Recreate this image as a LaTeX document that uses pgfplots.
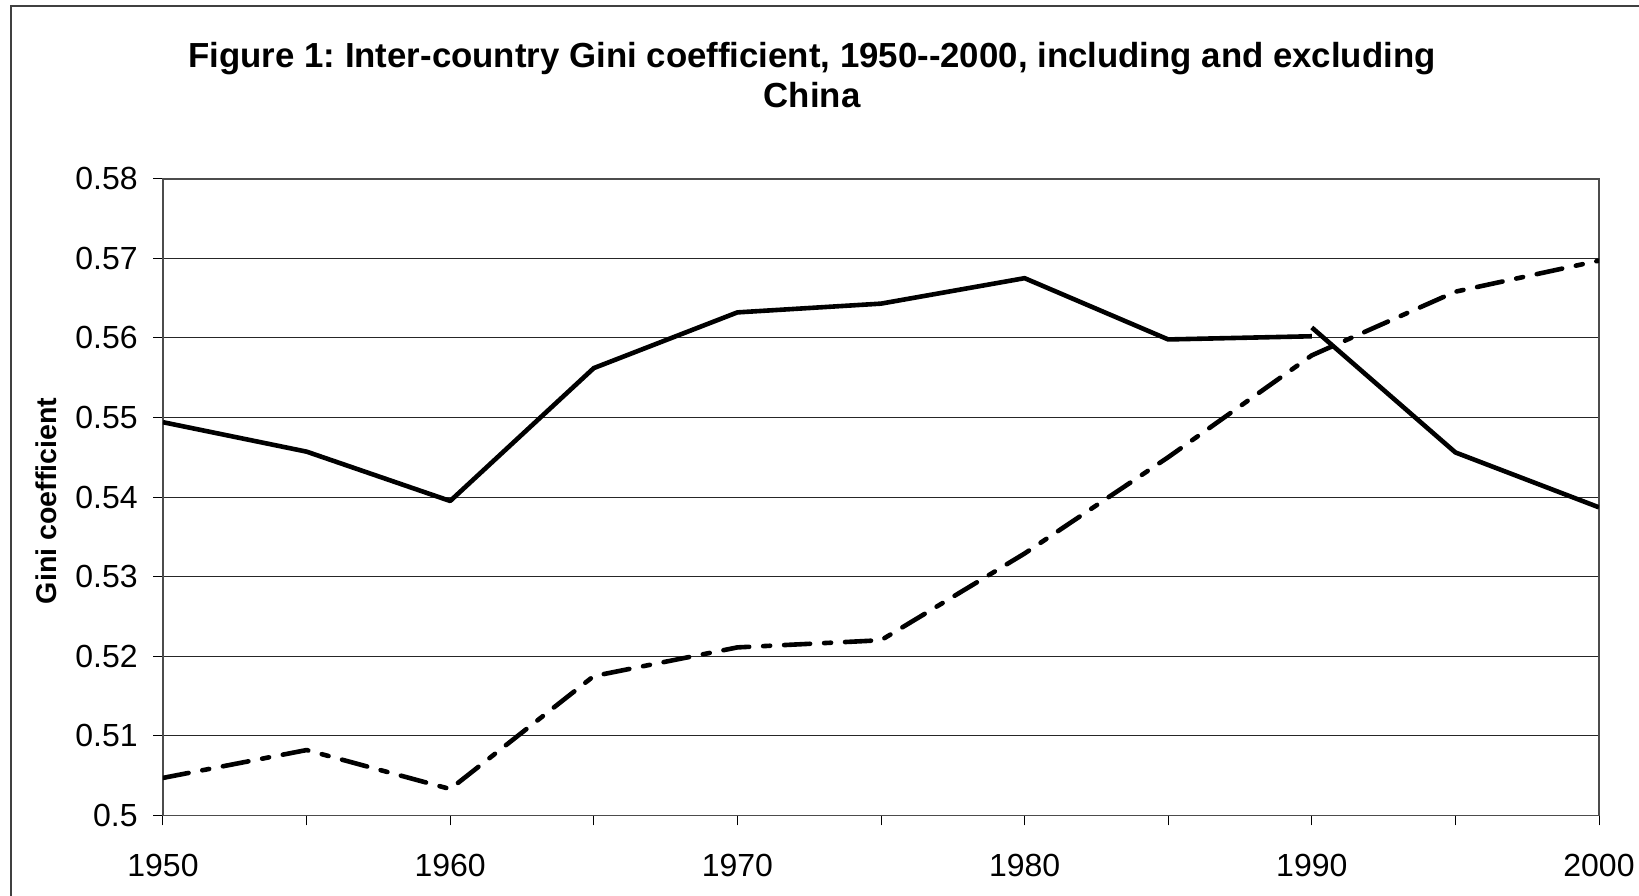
\documentclass[border=0pt]{standalone}
\usepackage{fontspec}
\setmainfont{Liberation Sans}
\usepackage{pgfplots}
\pgfplotsset{compat=1.18}
\frenchspacing
\begin{document}
\begin{tikzpicture}
\path[use as bounding box] (-81.5pt,-39.85pt) rectangle (738pt,407.65pt);
\clip (-81.5pt,-39.85pt) rectangle (738pt,407.65pt);
\fill[white] (-81.5pt,-39.85pt) rectangle (738pt,407.65pt);
\draw[black!75, line width=1pt] (-76pt,-80pt) rectangle (800pt,404.65pt);
\begin{axis}[
  at={(0pt,0pt)}, anchor=south west,
  scale only axis, width=718pt, height=318.3pt,
  xmin=1950, xmax=2000, ymin=0.5, ymax=0.58,
  xtick={1950,1960,1970,1980,1990,2000},
  xticklabels={1950,1960,1970,1980,1990,2000},
  minor xtick={1955,1965,1975,1985,1995},
  ytick={0.5,0.51,0.52,0.53,0.54,0.55,0.56,0.57,0.58},
  yticklabels={0.5,0.51,0.52,0.53,0.54,0.55,0.56,0.57,0.58},
  tick align=outside, xtick pos=lower, ytick pos=left,
  major tick length=5pt, minor tick length=5pt,
  tick style={black, line width=0.5pt},
  ymajorgrids, grid style={black!85, line width=0.5pt},
  axis line style={black!70, line width=0.8pt},
  ticklabel style={font=\fontsize{16}{18}\selectfont},
  xticklabel style={anchor=north, inner sep=0pt, yshift=-14pt},
  yticklabel style={anchor=east, inner sep=0pt, xshift=-7.5pt},
  ylabel={\bfseries Gini coefficient},
  ylabel style={font=\fontsize{14.3}{16}\selectfont, at={(axis description cs:-0.0815,0.494)}, anchor=center, rotate=0},
  title={\bfseries Figure 1: Inter-country Gini coefficient, 1950-{}-2000, including and excluding\\ \bfseries China},
  title style={font=\fontsize{17.4}{20}\selectfont, align=center, at={(axis description cs:0.452,1.1445)}, anchor=center},
]
\addplot[black, line width=2.3pt, line join=round] coordinates {
(1950,0.5494) (1955,0.5457) (1960,0.5395) (1965,0.5562) (1970,0.5632)
(1975,0.5643) (1980,0.5675) (1985,0.5598) (1990,0.5602)};
\addplot[black, line width=2.3pt, line join=round] coordinates {
(1990,0.5613) (1995,0.5456) (2000,0.5387)};
\addplot[black, line width=2.3pt, line join=round, line cap=round,
  dash pattern=on 13pt off 7pt on 3.5pt off 7pt] coordinates {
(1950,0.5047) (1955,0.5082) (1960,0.5033) (1965,0.5175) (1970,0.5211)
(1975,0.5220) (1980,0.5329) (1985,0.5450) (1990,0.5578) (1995,0.5658)
(2000,0.5697)};
\end{axis}
\end{tikzpicture}
\end{document}
